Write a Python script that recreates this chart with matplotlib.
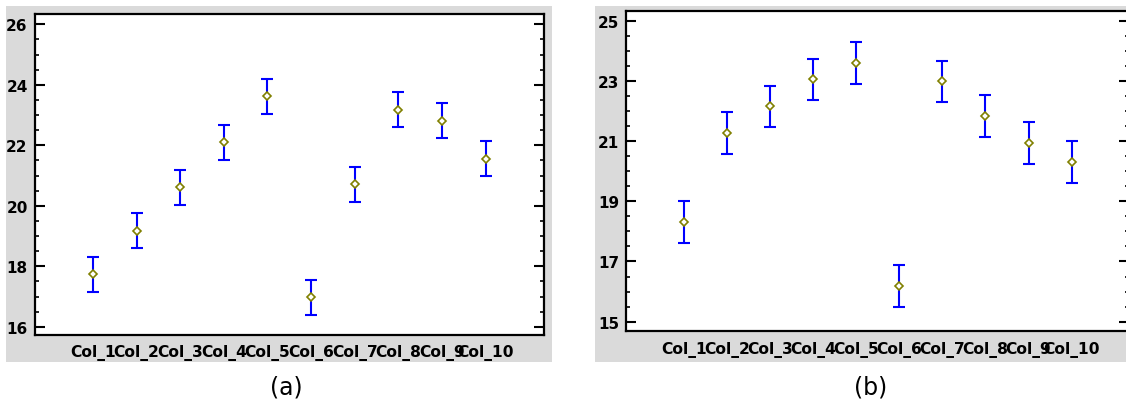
import matplotlib
matplotlib.use("Agg")
import matplotlib.pyplot as plt
from matplotlib.patches import Rectangle
from matplotlib.ticker import MultipleLocator

categories = ["Col_1", "Col_2", "Col_3", "Col_4", "Col_5",
              "Col_6", "Col_7", "Col_8", "Col_9", "Col_10"]

a_means = [17.74, 19.18, 20.62, 22.10, 23.62, 16.97, 20.71, 23.17, 22.81, 21.56]
a_errs = [0.58, 0.57, 0.58, 0.58, 0.58, 0.59, 0.58, 0.58, 0.58, 0.58]

b_means = [18.31, 21.26, 22.15, 23.05, 23.60, 16.18, 22.98, 21.83, 20.94, 20.31]
b_errs = [0.69, 0.69, 0.69, 0.69, 0.69, 0.69, 0.69, 0.69, 0.69, 0.69]

a_yticks = [16, 18, 20, 22, 24, 26]
b_yticks = [15, 17, 19, 21, 23, 25]

W, H = 1126, 406
fig = plt.figure(figsize=(W / 100, H / 100), dpi=100)
fig.patch.set_facecolor("white")

def px_rect(x0, y0, x1, y1):
    return [x0 / W, 1 - y1 / H, (x1 - x0) / W, (y1 - y0) / H]

gray = "#DADADA"
for (x0, y0, x1, y1) in [(6.4, 6.7, 551.5, 363), (595, 6.7, 1127, 363)]:
    r = px_rect(x0, y0, x1, y1)
    fig.add_artist(Rectangle((r[0], r[1]), r[2], r[3], transform=fig.transFigure,
                             facecolor=gray, edgecolor="none", zorder=-5))

ax_a = fig.add_axes(px_rect(34.6, 14.7, 543.6, 335.7))
ax_b = fig.add_axes(px_rect(626, 12, 1129, 332.3))
ax_a.set_zorder(2)
ax_b.set_zorder(2)

positions = list(range(1, len(categories) + 1))

def draw(ax, means, errs, yticks, ylim):
    ax.set_facecolor("white")
    ax.errorbar(positions, means, yerr=errs, fmt="none", ecolor="#0000FF",
                elinewidth=1.5, capsize=4.3, capthick=1.5, zorder=2)
    ax.plot(positions, means, linestyle="none", marker="D", markersize=4.4,
            markerfacecolor="white", markeredgecolor="#808000",
            markeredgewidth=1.2, zorder=3)
    ax.set_xlim(-0.337, 11.33)
    ax.set_ylim(*ylim)
    ax.set_xticks(positions)
    ax.set_xticklabels(categories, fontsize=11.2, fontweight="bold",
                       family="DejaVu Sans")
    ax.set_yticks(yticks)
    ax.set_yticklabels([str(t) for t in yticks], fontsize=11,
                       fontweight="bold", family="DejaVu Sans")
    ax.yaxis.set_minor_locator(MultipleLocator(0.5))
    ax.tick_params(axis="x", length=0, pad=7)
    ax.tick_params(axis="y", which="major", direction="in", length=7,
                   width=1.5, left=True, right=True, pad=5)
    ax.tick_params(axis="y", which="minor", direction="in", length=3,
                   width=1.2, left=True, right=True)
    for s in ax.spines.values():
        s.set_linewidth(1.6)
        s.set_color("black")

draw(ax_a, a_means, a_errs, a_yticks, (15.74, 26.35))
draw(ax_b, b_means, b_errs, b_yticks, (14.68, 25.32))

fig.text(286.5 / W, 1 - 388 / H, "(a)", ha="center", va="center",
         fontsize=17, family="DejaVu Sans")
fig.text(871 / W, 1 - 388 / H, "(b)", ha="center", va="center",
         fontsize=17, family="DejaVu Sans")

fig.savefig("out.png", dpi=100, facecolor="white")
